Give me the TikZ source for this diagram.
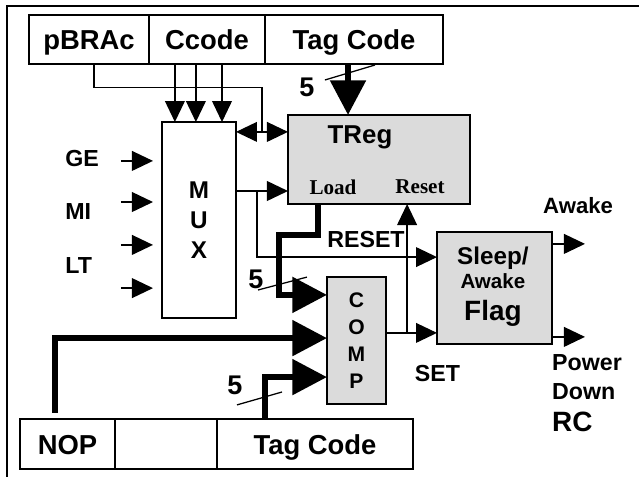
\documentclass[tikz,border=0pt]{standalone}
\usepackage{fontspec}
\setmainfont{Liberation Sans}
\newfontfamily\timesbf{Liberation Serif}
\usetikzlibrary{positioning,arrows.meta}
\tikzset{
  cell/.style ={rectangle, draw=black, line width=1.2pt, outer sep=0pt, inner sep=0pt,
                text height=19pt, text depth=0pt, font=\bfseries\fontsize{26}{28}\selectfont},
  blk/.style  ={rectangle, draw=black, line width=1.3pt, fill=black!14, outer sep=0pt, inner sep=0pt},
  lbl/.style  ={font=\bfseries\fontsize{#1}{#1}\selectfont, inner sep=0pt},
  lbl/.default=22,
  ser/.style  ={font=\timesbf\bfseries\fontsize{20}{20}\selectfont, inner sep=0pt},
  e/.style    ={-{Triangle[length=0.7cm, width=0.66cm]}, line width=1.2pt},
  ee/.style   ={{Triangle[length=0.7cm, width=0.66cm]}-{Triangle[length=0.7cm, width=0.66cm]}, line width=1.2pt},
  bus/.style  ={-{Triangle[length=1.15cm, width=1.15cm]}, line width=0.21cm, line join=miter},
  sl/.style   ={line width=1.2pt},
}
\begin{document}
\begin{tikzpicture}
\useasboundingbox (0,0) rectangle (21.3,15.867);
% outer frame (right and bottom sides run off the page)
\draw[line width=1.5pt] (0.23,-1) -- (0.23,15.67) -- (22,15.67);
%% ---------- instruction word (top) ----------
\node[cell, minimum width=4cm, minimum height=1.63cm] (pbrac) at (2.967,14.55) {pBRAc};
\node[cell, minimum width=3.867cm, minimum height=1.63cm, right=0pt of pbrac] (ccode) {Ccode};
\node[cell, minimum width=5.933cm, minimum height=1.63cm, right=0pt of ccode] (tagtop) {Tag Code};
%% ---------- blocks ----------
\node[rectangle, draw=black, line width=1.3pt, outer sep=0pt, inner sep=0pt, minimum width=2.467cm, minimum height=6.533cm,
      align=center, font=\bfseries\fontsize{23}{28.5}\selectfont] (mux) at (6.633,8.533) {M\\U\\X};
\node[blk, minimum width=6.067cm, minimum height=2.967cm] (treg) at (12.633,10.55) {};
\node[blk, minimum width=1.967cm, minimum height=4.233cm, align=center,
      font=\bfseries\fontsize{20}{25.6}\selectfont] (comp) at (11.883,4.517) {C\\O\\M\\P};
\node[blk, minimum width=3.833cm, minimum height=3.733cm] (flag) at (16.483,6.267) {};
%% ---------- instruction word (bottom) ----------
\node[cell, minimum width=3.167cm, minimum height=1.667cm] (nop) at (2.25,1.067) {NOP};
\node[cell, minimum width=3.4cm, minimum height=1.667cm, right=0pt of nop] (blank) {};
\node[cell, minimum width=6.533cm, minimum height=1.667cm, right=0pt of blank] (tagbot) {Tag Code};
%% ---------- mux inputs ----------
\node[lbl, anchor=west] (ge) at (2.17,10.57) {GE};
\node[lbl, anchor=west] (mi) at (2.17,8.83) {MI};
\node[lbl, anchor=west] (lt) at (2.17,7.03) {LT};
\foreach \y in {1.97,0.6,-0.83,-2.27}
  \draw[e] ([xshift=-1.37cm,yshift=\y cm]mux.west) -- ([xshift=-0.3cm,yshift=\y cm]mux.west);
\foreach \x in {5.83,6.53,7.4}
  \draw[e] (ccode.south -| \x,0) -- (mux.north -| \x,0);
%% ---------- thin links ----------
\coordinate (jn) at (8.73,11.47);
\draw[sl] ([xshift=0.17cm]pbrac.south) |- ([yshift=1.47cm]jn) -- (jn);
\draw[ee] (mux.east |- jn) -- (treg.west |- jn);
\coordinate (ld) at (8.57,9.5);
\draw[e] (mux.east |- ld) -- (treg.west |- ld);
\draw[e] (ld) |- ([yshift=1.03cm]flag.west);
\coordinate (st) at (13.57,4.77);
\draw[e] (comp.east |- st) -- (flag.west |- st);
\draw[e] (st) -- (st |- treg.south);
\draw[e] ([yshift=1.47cm]flag.east) -- ++(1.1,0);
\draw[e] ([yshift=-1.63cm]flag.east) -- ++(1.1,0);
%% ---------- 5-bit buses ----------
\draw[bus] ([xshift=-0.2cm]tagtop.south) coordinate (tb) -- (tb |- treg.north);
\draw[bus] ([xshift=-2.03cm]treg.south) |- (9.3,8.03) |- ([yshift=1.52cm]comp.west);
\draw[bus] ([xshift=-0.42cm,yshift=0.2cm]nop.north) |- ([yshift=0.08cm]comp.west);
\draw[bus] ([xshift=-1.67cm]tagbot.north) |- ([yshift=-1.22cm]comp.west);
% bus width marks
\draw[sl] (10.83,13.2) -- (12.5,13.7);
\node[lbl=25.6] (w1) at (10.23,12.97) {5};
\draw[sl] (8.6,6.2) -- (10.23,6.63);
\node[lbl=25.6] (w2) at (8.53,6.57) {5};
\draw[sl] (7.9,2.37) -- (9.4,2.8);
\node[lbl=25.6] (w3) at (7.83,3.03) {5};
%% ---------- labels ----------
\node[lbl=24.5] (tregl) at (12.0,11.3) {TReg};
\node[ser] (load) at (11.1,9.63) {Load};
\node[ser] (reset) at (14.0,9.63) {Reset};
\node[lbl] (rsl) at (12.2,7.87) {RESET};
\node[lbl] (stl) at (14.58,3.43) {SET};
\node[lbl=23] (fl1) at (16.43,7.27) {Sleep/};
\node[lbl=19.5] (fl2) at (16.43,6.48) {Awake};
\node[lbl=26.5] (fl3) at (16.43,5.42) {Flag};
\node[lbl=21] (awk) at (19.27,9.03) {Awake};
\node[lbl, anchor=west] (pw) at (18.4,3.77) {Power};
\node[lbl, anchor=west] (dn) at (18.4,2.8) {Down};
\node[lbl=26.5, anchor=west] (rc) at (18.4,1.8) {RC};
\end{tikzpicture}
\end{document}
